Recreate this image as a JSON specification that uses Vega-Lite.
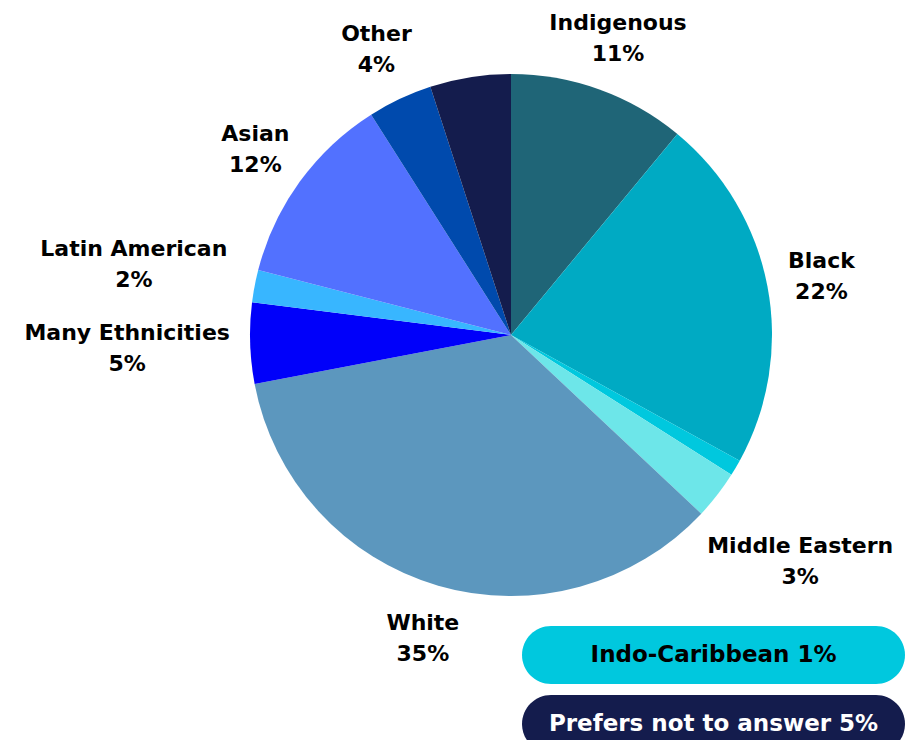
{
  "$schema": "https://vega.github.io/schema/vega-lite/v6.json",
  "autosize": "none",
  "width": 814,
  "height": 670,
  "padding": {"left": 104, "top": 0, "right": 0, "bottom": 70},
  "background": "white",
  "config": {"view": {"stroke": null}},
  "datasets": {
    "slices": [
      {"order": 1, "cat": "Indigenous", "value": 11},
      {"order": 2, "cat": "Black", "value": 22},
      {"order": 3, "cat": "Indo-Caribbean", "value": 1},
      {"order": 4, "cat": "Middle Eastern", "value": 3},
      {"order": 5, "cat": "White", "value": 35},
      {"order": 6, "cat": "Many Ethnicities", "value": 5},
      {"order": 7, "cat": "Latin American", "value": 2},
      {"order": 8, "cat": "Asian", "value": 12},
      {"order": 9, "cat": "Other", "value": 4},
      {"order": 10, "cat": "Prefers not to answer", "value": 5}
    ],
    "boxes": [
      {"cat": "Indo-Caribbean", "value": 1},
      {"cat": "Prefers not to answer", "value": 5}
    ]
  },
  "layer": [
    {
      "data": {"name": "slices"},
      "mark": {"type": "arc", "outerRadius": 261},
      "encoding": {
        "theta": {"field": "value", "type": "quantitative", "stack": true},
        "order": {"field": "order", "type": "quantitative"},
        "color": {
          "field": "cat", "type": "nominal", "legend": null,
          "scale": {
            "domain": ["Indigenous", "Black", "Indo-Caribbean", "Middle Eastern", "White", "Many Ethnicities", "Latin American", "Asian", "Other", "Prefers not to answer"],
            "range": ["#1F6577", "#00AAC3", "#00C8DE", "#6DE6E9", "#5C97BE", "#0000FA", "#38B6FF", "#5271FF", "#004AAD", "#141C4D"]
          }
        }
      }
    },
    {
      "data": {"name": "slices"},
      "transform": [{"calculate": "[datum.cat, datum.value + '%']", "as": "lab"}],
      "mark": {"type": "text", "radius": 316, "dy": -15, "font": "DejaVu Sans", "fontWeight": "bold", "fontSize": 22, "lineHeight": 31, "color": "black", "baseline": "middle", "align": "center"},
      "encoding": {
        "theta": {"field": "value", "type": "quantitative", "stack": true},
        "order": {"field": "order", "type": "quantitative"},
        "text": {"condition": {"test": "indexof(['Indigenous','Black','White','Asian','Other'], datum.cat) >= 0", "field": "lab"}, "value": ""}
      }
    },
    {
      "data": {"name": "slices"},
      "transform": [{"calculate": "[datum.cat, datum.value + '%']", "as": "lab"}],
      "mark": {"type": "text", "radius": 366, "dy": -13, "font": "DejaVu Sans", "fontWeight": "bold", "fontSize": 22, "lineHeight": 31, "color": "black", "baseline": "middle", "align": "center"},
      "encoding": {
        "theta": {"field": "value", "type": "quantitative", "stack": true},
        "order": {"field": "order", "type": "quantitative"},
        "text": {"condition": {"test": "datum.cat == 'Middle Eastern'", "field": "lab"}, "value": ""}
      }
    },
    {
      "data": {"name": "slices"},
      "transform": [{"calculate": "[datum.cat, datum.value + '%']", "as": "lab"}],
      "mark": {"type": "text", "radius": 384, "dy": -14, "font": "DejaVu Sans", "fontWeight": "bold", "fontSize": 22, "lineHeight": 31, "color": "black", "baseline": "middle", "align": "center"},
      "encoding": {
        "theta": {"field": "value", "type": "quantitative", "stack": true},
        "order": {"field": "order", "type": "quantitative"},
        "text": {"condition": {"test": "indexof(['Many Ethnicities','Latin American'], datum.cat) >= 0", "field": "lab"}, "value": ""}
      }
    },
    {
      "data": {"name": "boxes"},
      "mark": {"type": "rect", "cornerRadius": 29},
      "encoding": {
        "x": {"value": 418},
        "x2": {"value": 801},
        "y": {"field": "cat", "type": "nominal", "axis": null, "scale": {"type": "band", "domain": ["Indo-Caribbean", "Prefers not to answer"], "range": [626, 753], "paddingInner": 0.1594, "paddingOuter": 0}},
        "color": {"field": "cat", "type": "nominal", "legend": null}
      }
    },
    {
      "data": {"name": "boxes"},
      "transform": [{"calculate": "datum.cat + ' ' + datum.value + '%'", "as": "lab"}],
      "mark": {"type": "text", "font": "DejaVu Sans", "fontWeight": "bold", "fontSize": 23, "baseline": "middle", "align": "center"},
      "encoding": {
        "x": {"value": 609.5},
        "y": {"field": "cat", "type": "nominal", "axis": null, "bandPosition": 0.5},
        "text": {"field": "lab"},
        "color": {"condition": {"test": "datum.cat == 'Prefers not to answer'", "value": "white"}, "value": "black"}
      }
    }
  ]
}
